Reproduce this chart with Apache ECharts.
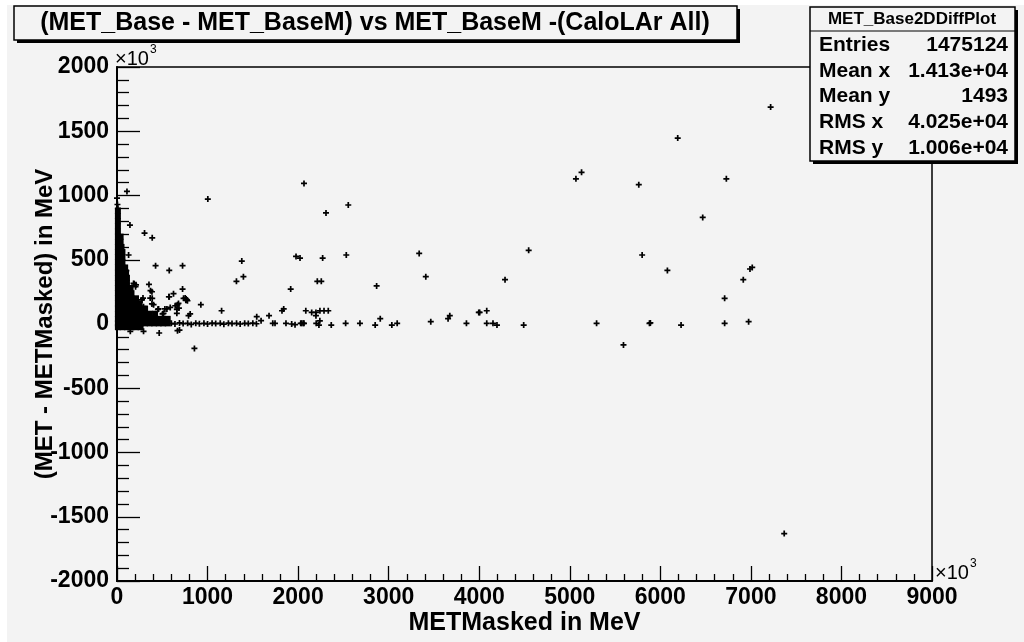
<!DOCTYPE html>
<html>
<head>
<meta charset="utf-8">
<title>MET_Base2DDiffPlot</title>
<script src="https://cdn.jsdelivr.net/npm/echarts@6.0.0/dist/echarts.min.js"></script>
<style>
  html, body { margin: 0; padding: 0; background: #fff; }
  #chart { width: 1024px; height: 642px; }
</style>
</head>
<body>
<div id="chart"></div>
<script>
// labels
var titleText = '(MET_Base - MET_BaseM) vs MET_BaseM -(CaloLAr All)';
var xName = 'METMasked in MeV';
var yName = '(MET - METMasked) in MeV';
var statsName = 'MET_Base2DDiffPlot';
var statsLabels = ['Entries', 'Mean x', 'Mean y', 'RMS x', 'RMS y'];
var statsValues = ['1475124', '1.413e+04', '1493', '4.025e+04', '1.006e+04'];

// axis ranges (x10^3 MeV)
var xRange = [0, 9000];
var yRange = [-2000, 2000];

// dense core near zero (blob of overlapping entries)
var coreCells = [
  [10,880],[10,840],[10,800],[10,760],[10,720],
  [10,680],[40,680],[10,640],[40,640],[10,600],[50,600],
  [10,560],[60,560],[10,520],[60,520],[10,480],[60,480],
  [10,440],[60,440],[90,440],[10,400],[60,400],[100,400],
  [10,360],[60,360],[110,360],[10,320],[60,320],[110,320],
  [10,280],[60,280],[110,280],[150,280],
  [10,240],[60,240],[110,240],[160,240],
  [10,200],[60,200],[110,200],[160,200],[210,200],
  [10,160],[60,160],[110,160],[160,160],[210,160],[250,160],
  [10,120],[60,120],[110,120],[160,120],[210,120],[260,120],[310,120],
  [10,80],[60,80],[110,80],[160,80],[210,80],[260,80],[310,80],[360,80],[420,80],
  [10,40],[60,40],[110,40],[160,40],[210,40],[260,40],[310,40],[360,40],[410,40],[460,40],[510,40],[560,40],
  [10,5],[60,5],[110,5],[160,5],[210,5],[260,5],[310,5],[360,5],[410,5],[460,5],[510,5],[560,5],
  [10,-25],[60,-25],[110,-25],[160,-25],[210,-25],[260,-25]
];

// single entries
var points = [
  // band along zero
  [600,5],[640,0],[690,8],[730,3],[780,5],[820,-3],[870,6],[910,2],[960,5],[1000,0],
  [1050,6],[1090,3],[1140,5],[1180,-2],[1230,6],[1270,3],[1320,5],[1360,0],[1410,5],
  [1450,3],[1500,6],[1540,2],
  // around the core
  [0,980],[5,930],[10,900],
  [110,1032],[143,770],[304,708],[389,671],[128,537],[426,454],[577,417],[724,454],
  [80,428],[103,415],[103,316],[183,316],[205,290],[353,308],[370,259],[389,200],
  [735,200],[760,185],[573,212],[624,236],[724,272],[764,194],[778,181],[668,150],
  [684,124],[790,65],[808,78],[190,313],[210,305],[452,114],[503,78],[529,117],
  [661,114],[276,187],[386,156],[257,129],[367,202],[386,251],[577,212],[753,202],
  [772,187],[287,202],[293,135],[404,150],[459,117],[514,83],[551,117],[588,129],
  [643,142],[679,160],[661,83],
  [147,-57],[293,-57],[466,-70],[668,-52],[690,-47],[855,-190],
  [926,150],[1155,103],[1003,972],[1378,490],[1319,332],[1396,368],
  [1543,57],[1591,26],[1679,65],[1720,5],[1745,5],[1822,103],[1841,117],[1866,5],
  [1929,0],[1966,-5],[2029,5],[2057,5],
  // middle
  [2065,1094],[2554,926],[2308,864],[2021,513],[1977,526],[2271,513],[2532,537],
  [2212,332],[2256,332],[2867,296],[1918,272],
  [2085,103],[2150,90],[2197,90],[2241,103],[2286,103],[2333,103],[2197,65],
  [2040,5],[2065,5],[2200,5],[2230,-8],[2240,25],[2366,-8],[2525,5],[2683,5],
  [2851,-8],[2907,41],[3035,-8],[3094,5],[3337,549],[3410,368],[3465,18],[3656,41],
  [3675,65],[3859,5],[3995,90],[4005,90],[4083,103],[4083,5],[4152,5],[4196,-8],
  [4285,345],[4491,-8],[4546,573],[5068,1130],[5130,1180],[5296,5],
  // right
  [5593,-163],[5762,1084],[5799,537],[5880,5],[5890,8],[6078,417],[6192,1447],
  [6229,-8],[6468,829],[6710,200],[6710,5],[6729,1130],[6916,345],[6975,18],
  [6990,428],[7015,440],[7218,1688],[7368,-1631]
];

var plusMark = 'path://M0,2.5H7V4.5H0Z M2.5,0H4.5V7H2.5Z';
var font = 'Liberation Sans, Arial, sans-serif';
var ink = '#000';
var paper = '#f3f3f3';

var chart = echarts.init(document.getElementById('chart'));

function txt(x, y, s, size, align, weight) {
  return { type: 'text', x: x, y: y, z: 12,
    style: { text: s, fontFamily: font, fontSize: size, fontWeight: weight || 'bold', fill: ink, align: align, verticalAlign: 'middle' } };
}

var statsGraphics = [
  { type: 'rect', shape: { x: 813, y: 10, width: 205, height: 154 }, style: { fill: ink }, z: 10 },
  { type: 'rect', shape: { x: 810, y: 7, width: 205, height: 154 }, style: { fill: paper, stroke: ink, lineWidth: 1.5 }, z: 11 },
  { type: 'line', shape: { x1: 810, y1: 31, x2: 1015, y2: 31 }, style: { stroke: ink, lineWidth: 1.2 }, z: 12 },
  txt(912, 19, statsName, 17, 'center')
];
statsLabels.forEach(function (lab, i) {
  var yy = 45 + i * 25.8;
  statsGraphics.push(txt(819, yy, lab, 21, 'left'));
  statsGraphics.push(txt(1008, yy, statsValues[i], 21, 'right'));
});

var option = {
  backgroundColor: '#fff',
  animation: false,
  grid: {
    left: 117, right: 92, top: 67, bottom: 61,
    show: true, borderColor: ink, borderWidth: 1.5, backgroundColor: 'transparent'
  },
  xAxis: {
    type: 'value', min: xRange[0], max: xRange[1], interval: 1000,
    name: xName, nameLocation: 'middle', nameGap: 30, nameMoveOverlap: false,
    nameTextStyle: { fontFamily: font, fontWeight: 'bold', fontSize: 25, color: ink },
    axisLine: { onZero: false, lineStyle: { color: ink, width: 2 } },
    axisTick: { inside: true, length: 15, lineStyle: { color: ink, width: 1.3 } },
    minorTick: { show: true, splitNumber: 5, length: 7, lineStyle: { color: ink, width: 1.3 } },
    splitLine: { show: false },
    axisLabel: { fontFamily: font, fontWeight: 'bold', fontSize: 23, color: ink, margin: 5,
      formatter: function (v) { return String(v); } }
  },
  yAxis: {
    type: 'value', min: yRange[0], max: yRange[1], interval: 500,
    name: yName, nameLocation: 'middle', nameGap: 60, nameRotate: 90, nameMoveOverlap: false,
    nameTextStyle: { fontFamily: font, fontWeight: 'bold', fontSize: 24, color: ink },
    axisLine: { onZero: false, lineStyle: { color: ink, width: 2 } },
    axisTick: { inside: true, length: 23, lineStyle: { color: ink, width: 1.3 } },
    minorTick: { show: true, splitNumber: 5, length: 12, lineStyle: { color: ink, width: 1.3 } },
    splitLine: { show: false },
    axisLabel: { fontFamily: font, fontWeight: 'bold', fontSize: 23, color: ink, margin: 8,
      formatter: function (v) { return String(v); } }
  },
  graphic: [
    { type: 'rect', shape: { x: 7, y: 5, width: 1017, height: 637 }, style: { fill: paper }, z: -100 },
    // title box
    { type: 'rect', shape: { x: 17, y: 9, width: 723, height: 34 }, style: { fill: ink }, z: 10 },
    { type: 'rect', shape: { x: 14, y: 6, width: 723, height: 34 }, style: { fill: paper, stroke: ink, lineWidth: 1.5 }, z: 11 },
    txt(375, 23, titleText, 25, 'center'),
    // exponent labels
    txt(115, 59, '\u00d710', 20, 'left', 'normal'),
    txt(150, 50, '3', 12, 'left', 'normal'),
    txt(935, 573, '\u00d710', 20, 'left', 'normal'),
    txt(970, 564, '3', 12, 'left', 'normal')
  ].concat(statsGraphics),
  series: [
    {
      type: 'scatter', data: coreCells, clip: false,
      symbol: 'rect', symbolSize: 6,
      itemStyle: { color: ink, opacity: 1 }
    },
    {
      type: 'scatter', data: points, clip: false,
      symbol: plusMark, symbolSize: 6,
      itemStyle: { color: ink, opacity: 1 }
    }
  ]
};
chart.setOption(option);
</script>
</body>
</html>
